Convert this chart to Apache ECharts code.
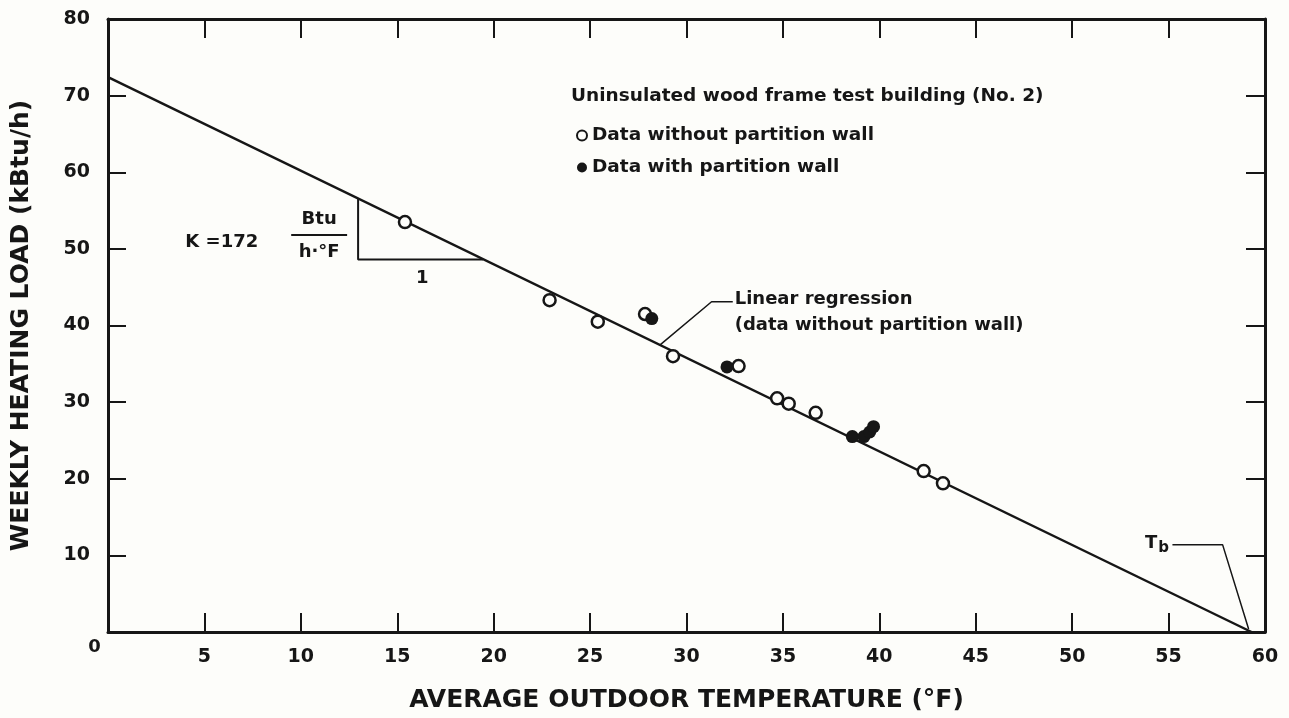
<!DOCTYPE html>
<html>
<head>
<meta charset="utf-8">
<script src="https://cdn.jsdelivr.net/npm/echarts@6/dist/echarts.min.js"></script>
<style>
html, body { margin: 0; padding: 0; background: #fdfdfa; }
#chart { width: 1289px; height: 718px; }
</style>
</head>
<body>
<div id="chart"></div>
<script>
// data (x = outdoor temp °F, y = weekly heating load kBtu/h)
const withoutWall = [
    [15.4, 53.5], [22.9, 43.3], [25.4, 40.5], [27.85, 41.5], [29.3, 36.0],
    [32.7, 34.7], [34.7, 30.5], [35.3, 29.8], [36.7, 28.6], [42.3, 21.0], [43.3, 19.4]
]
const withWall = [
    [28.2, 40.9], [32.1, 34.6], [38.6, 25.5], [39.2, 25.5], [39.5, 26.1], [39.7, 26.8]
]
const regression = [[0, 72.4], [59.3, 0]]
const slopeTriangle = [[12.97, 56.5], [12.97, 48.6], [19.45, 48.6]]
const fractionBar = [[9.5, 51.8], [12.4, 51.8]]
const regressionLeader = [[28.6, 37.4], [31.3, 43.1], [32.4, 43.1]]
const tbLeader = [[55.2, 11.4], [57.8, 11.4], [59.15, 0.4]]

// text annotations placed in data coordinates
const notesCenter = [
    { name: 'K =172', value: [5.9, 50.8] },
    { name: 'Btu', value: [10.95, 53.8] },
    { name: 'h·°F', value: [10.95, 49.6] },
    { name: '1', value: [16.3, 46.2] },
    { name: 'T{s|b}', value: [54.4, 11.6] },
    { name: '0', value: [-0.7, -2.0] }
]
const notesLeft = [
    { name: 'Linear regression', value: [32.5, 43.4] },
    { name: '(data without partition wall)', value: [32.5, 40.0] }
]

const ink = '#161616'
const bg = '#fdfdfa'
const font = 'DejaVu Sans'

const myChart = echarts.init(document.getElementById('chart'))

const guide = (data, w) => ({
    type: 'line',
    data: data,
    symbol: 'none',
    silent: true,
    animation: false,
    lineStyle: { color: ink, width: w },
    z: 3
})
const textSeries = (data, align) => ({
    type: 'scatter',
    data: data,
    symbolSize: 0,
    silent: true,
    clip: false,
    animation: false,
    itemStyle: { opacity: 1 },
    label: {
        show: true,
        position: 'inside',
        align: align,
        verticalAlign: 'middle',
        formatter: p => p.name,
        fontFamily: font,
        fontWeight: 'bold',
        fontSize: 18,
        color: ink,
        rich: {
            s: { fontFamily: font, fontWeight: 'bold', fontSize: 15, color: ink, padding: [10, 0, 0, 1] }
        }
    },
    z: 6
})

const frameAxis = {
    axisLine: { show: true, onZero: false, lineStyle: { color: ink, width: 3 } },
    axisTick: { show: true, inside: true, length: 19, lineStyle: { color: ink, width: 2 } },
    axisLabel: { show: false },
    splitLine: { show: false }
}
const tickFont = { fontFamily: font, fontWeight: 'bold', fontSize: 19, color: ink }
const nameFont = { fontFamily: font, fontWeight: 'bold', fontSize: 25, color: ink }

const option = {
    backgroundColor: bg,
    animation: false,
    grid: { left: 108, right: 24, top: 19, bottom: 86, containLabel: false, outerBoundsMode: 'none' },
    title: {
        text: 'Uninsulated wood frame test building (No. 2)',
        left: 566,
        top: 82,
        textStyle: { fontFamily: font, fontWeight: 'bold', fontSize: 18.5, color: ink }
    },
    legend: {
        orient: 'vertical',
        left: 571,
        top: 121,
        itemGap: 13,
        itemWidth: 10,
        itemHeight: 10,
        textStyle: { fontFamily: font, fontWeight: 'bold', fontSize: 18.5, color: ink },
        data: [
            { name: 'Data without partition wall', icon: 'circle', itemStyle: { color: bg, borderColor: ink, borderWidth: 2 } },
            { name: 'Data with partition wall', icon: 'circle', itemStyle: { color: ink } }
        ]
    },
    xAxis: [
        {
            type: 'value',
            min: 0,
            max: 60,
            interval: 5,
            position: 'bottom',
            name: 'AVERAGE OUTDOOR TEMPERATURE (°F)',
            nameLocation: 'middle',
            nameGap: 56,
            nameTextStyle: nameFont,
            axisLine: { show: true, onZero: false, lineStyle: { color: ink, width: 3 } },
            axisTick: { show: true, inside: true, length: 19, lineStyle: { color: ink, width: 2 } },
            axisLabel: Object.assign({ margin: 16, formatter: v => (v === 0 ? '' : String(v)) }, tickFont),
            splitLine: { show: false }
        },
        Object.assign({ type: 'value', min: 0, max: 60, interval: 5, position: 'top' }, frameAxis)
    ],
    yAxis: [
        {
            type: 'value',
            min: 0,
            max: 80,
            interval: 10,
            position: 'left',
            name: 'WEEKLY HEATING LOAD (kBtu/h)',
            nameLocation: 'middle',
            nameGap: 74,
            nameTextStyle: nameFont,
            axisLine: { show: true, onZero: false, lineStyle: { color: ink, width: 3 } },
            axisTick: { show: true, inside: true, length: 18, lineStyle: { color: ink, width: 2 } },
            axisLabel: Object.assign({ margin: 18, formatter: v => (v === 0 ? '' : String(v)) }, tickFont),
            splitLine: { show: false }
        },
        Object.assign({ type: 'value', min: 0, max: 80, interval: 10, position: 'right' }, frameAxis)
    ],
    series: [
        guide(regression, 2.5),
        guide(slopeTriangle, 2),
        guide(fractionBar, 2),
        guide(regressionLeader, 1.5),
        guide(tbLeader, 1.5),
        {
            name: 'Data without partition wall',
            type: 'scatter',
            data: withoutWall,
            symbol: 'circle',
            symbolSize: 12,
            itemStyle: { color: bg, borderColor: ink, borderWidth: 2.5, opacity: 1 },
            z: 5
        },
        {
            name: 'Data with partition wall',
            type: 'scatter',
            data: withWall,
            symbol: 'circle',
            symbolSize: 13,
            itemStyle: { color: ink, opacity: 1 },
            z: 5
        },
        textSeries(notesCenter, 'center'),
        textSeries(notesLeft, 'left')
    ]
}
myChart.setOption(option)
</script>
</body>
</html>
